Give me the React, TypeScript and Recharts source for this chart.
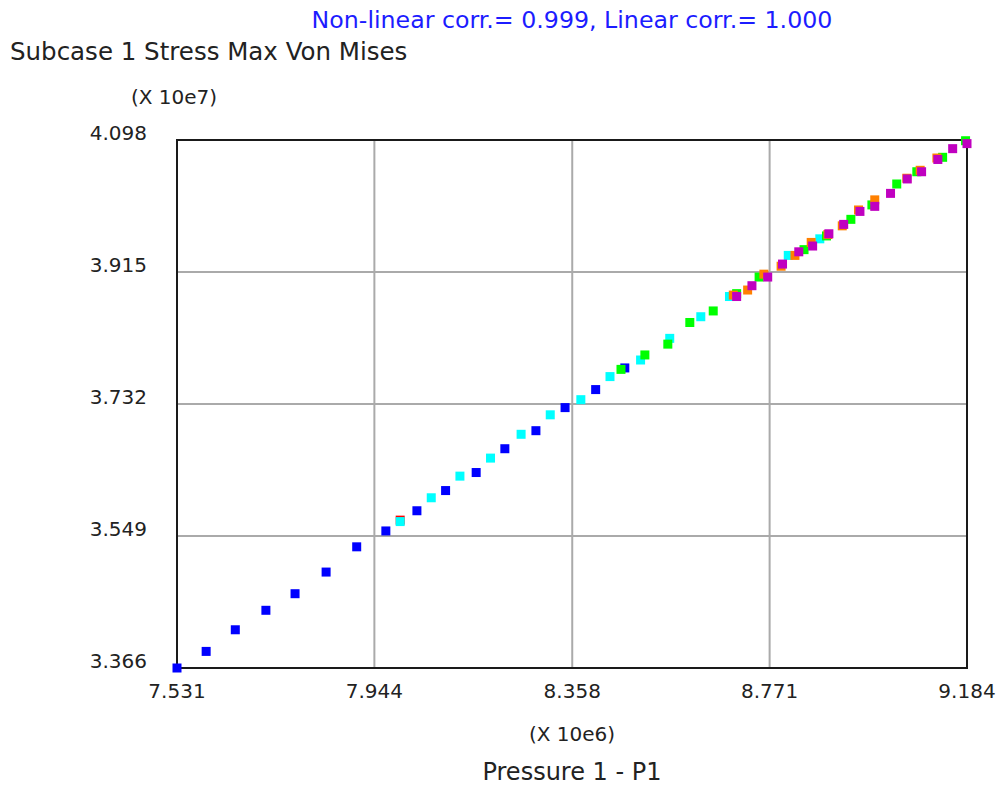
import React from "react";
import {
  ScatterChart,
  Scatter,
  XAxis,
  YAxis,
  CartesianGrid,
  ReferenceArea,
} from "recharts";

// Pressure (x 10e6) and Stress (x 10e7)
const blueX = [7.531, 7.592, 7.653, 7.717, 7.778, 7.843, 7.907, 7.968, 8.033, 8.093, 8.157, 8.217, 8.282, 8.343, 8.407, 8.468];
const blueY = [3.366, 3.389, 3.419, 3.446, 3.469, 3.499, 3.534, 3.556, 3.584, 3.612, 3.637, 3.670, 3.695, 3.727, 3.752, 3.782];

const redX = [7.998];
const redY = [3.571];

const cyanX = [7.998, 8.063, 8.123, 8.187, 8.251, 8.312, 8.376, 8.437, 8.501, 8.562, 8.627, 8.687, 8.810, 8.876];
const cyanY = [3.569, 3.602, 3.632, 3.657, 3.690, 3.717, 3.738, 3.770, 3.793, 3.823, 3.853, 3.881, 3.938, 3.961];

const greenX = [8.460, 8.510, 8.558, 8.604, 8.653, 8.702, 8.749, 8.843, 8.890, 8.941, 8.985, 9.037, 9.079, 9.133, 9.181];
const greenY = [3.780, 3.800, 3.815, 3.845, 3.861, 3.885, 3.908, 3.946, 3.965, 3.988, 4.008, 4.037, 4.054, 4.074, 4.097];

const orangeX = [8.695, 8.725, 8.759, 8.795, 8.824, 8.858, 8.893, 8.923, 8.957, 8.991, 9.058, 9.086, 9.121];
const orangeY = [3.883, 3.890, 3.912, 3.923, 3.938, 3.956, 3.967, 3.979, 4.001, 4.015, 4.045, 4.056, 4.073];

const magentaX = [8.702, 8.734, 8.767, 8.798, 8.832, 8.861, 8.895, 8.926, 8.960, 8.991, 9.024, 9.059, 9.089, 9.123, 9.154, 9.184];
const magentaY = [3.881, 3.896, 3.908, 3.926, 3.943, 3.951, 3.968, 3.981, 3.999, 4.006, 4.024, 4.044, 4.054, 4.071, 4.086, 4.093];

const xTicks = [7.531, 7.944, 8.358, 8.771, 9.184];
const yTicks = [3.366, 3.549, 3.732, 3.915, 4.098];

const xTickLabels = ["7.531", "7.944", "8.358", "8.771", "9.184"];
const yTickLabels = ["3.366", "3.549", "3.732", "3.915", "4.098"];

const titleTop = "Non-linear corr.= 0.999, Linear corr.= 1.000";
const yTitle = "Subcase 1 Stress Max Von Mises";
const yUnit = "(X 10e7)";
const xUnit = "(X 10e6)";
const xTitle = "Pressure 1 - P1";

const zip = (xs: number[], ys: number[]) => xs.map((x, i) => ({ x, y: ys[i] }));

const FONT = "DejaVu Sans";

const makeSquare = (color: string) => (props: any) => {
  const { cx, cy } = props;
  if (cx == null || cy == null) return <g />;
  return <rect x={cx - 4.5} y={cy - 4.5} width={9} height={9} fill={color} />;
};

const XTick = (props: any) => {
  const { x, payload } = props;
  const idx = xTicks.indexOf(payload.value);
  const label = idx >= 0 ? xTickLabels[idx] : String(payload.value);
  return (
    <text x={x} y={698} textAnchor="middle" fontFamily={FONT} fontSize={20} fill="#222">
      {label}
    </text>
  );
};

const YTick = (props: any) => {
  const { y, payload } = props;
  const idx = yTicks.indexOf(payload.value);
  const label = idx >= 0 ? yTickLabels[idx] : String(payload.value);
  return (
    <text x={147} y={y} textAnchor="end" fontFamily={FONT} fontSize={20} fill="#222">
      {label}
    </text>
  );
};

export default function App() {
  return (
    <div style={{ position: "absolute", left: 0, top: 0, width: 1002, height: 793, background: "#fff" }}>
      <ScatterChart
        width={1002}
        height={793}
        margin={{ left: 97, top: 140, right: 35, bottom: 85 }}
      >
        <CartesianGrid stroke="#aaaaaa" strokeWidth={2} />
        <XAxis
          type="number"
          dataKey="x"
          domain={[7.531, 9.184]}
          ticks={xTicks}
          height={40}
          tickLine={false}
          axisLine={false}
          tick={<XTick />}
          interval={0}
        />
        <YAxis
          type="number"
          dataKey="y"
          domain={[3.366, 4.098]}
          ticks={yTicks}
          width={80}
          tickLine={false}
          axisLine={false}
          tick={<YTick />}
          interval={0}
        />
        <ReferenceArea
          x1={7.531}
          x2={9.184}
          y1={3.366}
          y2={4.098}
          fill="none"
          fillOpacity={0}
          stroke="#1a1a1a"
          strokeWidth={2}
          ifOverflow="visible"
        />
        <Scatter data={zip(redX, redY)} shape={makeSquare("#ff0000")} isAnimationActive={false} />
        <Scatter data={zip(blueX, blueY)} shape={makeSquare("#0000ff")} isAnimationActive={false} />
        <Scatter data={zip(cyanX, cyanY)} shape={makeSquare("#00ffff")} isAnimationActive={false} />
        <Scatter data={zip(greenX, greenY)} shape={makeSquare("#00ff00")} isAnimationActive={false} />
        <Scatter data={zip(orangeX, orangeY)} shape={makeSquare("#ff8000")} isAnimationActive={false} />
        <Scatter data={zip(magentaX, magentaY)} shape={makeSquare("#c000c0")} isAnimationActive={false} />
      </ScatterChart>
      <svg
        width={1002}
        height={793}
        style={{ position: "absolute", left: 0, top: 0, pointerEvents: "none" }}
      >
        <text x={572} y={28} textAnchor="middle" fontFamily={FONT} fontSize={23.7} fill="#1c1cff">
          {titleTop}
        </text>
        <text x={10} y={60} fontFamily={FONT} fontSize={24.5} fill="#222">
          {yTitle}
        </text>
        <text x={174} y={104} textAnchor="middle" fontFamily={FONT} fontSize={20} fill="#222">
          {yUnit}
        </text>
        <text x={572} y={741} textAnchor="middle" fontFamily={FONT} fontSize={20} fill="#222">
          {xUnit}
        </text>
        <text x={572} y={780} textAnchor="middle" fontFamily={FONT} fontSize={24} fill="#222">
          {xTitle}
        </text>
      </svg>
    </div>
  );
}
